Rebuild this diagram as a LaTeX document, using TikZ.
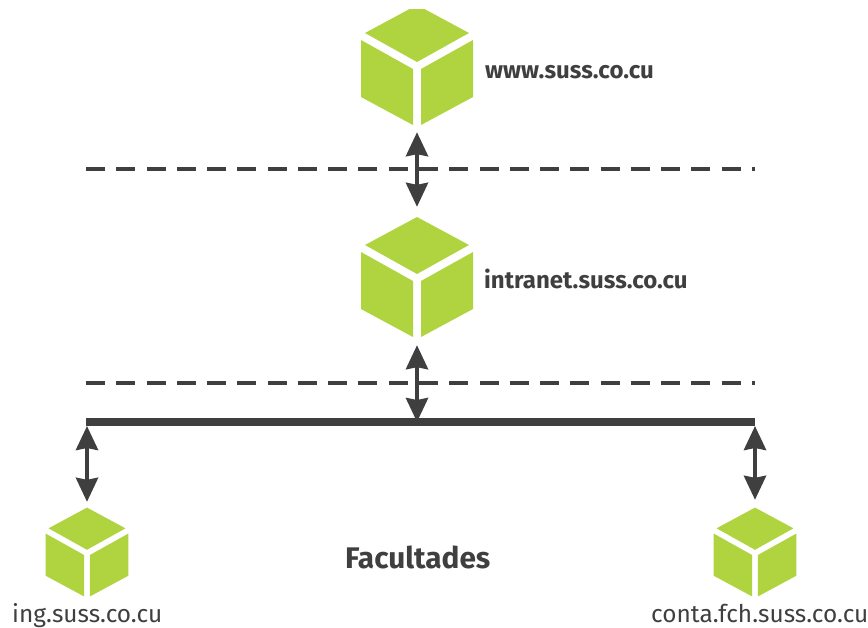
\documentclass[tikz,border=0pt]{standalone}
\usepackage{fontspec}
\setmainfont{Fira Sans}
\usepackage{xcolor}
\usetikzlibrary{arrows.meta}
\definecolor{cubegreen}{HTML}{AFD43F}
\definecolor{inkgrey}{HTML}{3F3F3F}
\tikzset{
  greencube/.pic={
    \fill [cubegreen] (-56,-25) -- (-4,4) -- (-4,60) -- (-56,32) -- cycle;
    \fill [cubegreen] (56,-25) -- (4,4) -- (4,60) -- (56,32) -- cycle;
    \fill [cubegreen] (-52,-32) -- (0,-60) -- (52,-32) -- (0,-3) -- cycle;
  },
  bigbox/.style={minimum width=112pt, minimum height=120pt, inner sep=0pt},
  smallbox/.style={minimum width=83pt, minimum height=88pt, inner sep=0pt},
  boldlabel/.style={anchor=base west, inner sep=0pt, text=inkgrey, font=\bfseries\fontsize{24}{28}\selectfont},
  pluslabel/.style={anchor=base west, inner sep=0pt, text=inkgrey, font=\fontsize{24.4}{28}\selectfont},
  zone/.style={inkgrey, line width=3.4pt, dash pattern=on 19pt off 11.27pt},
  biarrow/.style={{Stealth[length=24pt,width=22pt,inset=2pt]}-{Stealth[length=24pt,width=22pt,inset=2pt]}, inkgrey, line width=4pt},
}
\begin{document}
\begin{tikzpicture}[x=1pt, y=-1pt]
  \useasboundingbox (0,0) rectangle (868,627);
  \node [bigbox] (www) at (417,65) {};
  \node [bigbox] (intranet) at (417,277) {};
  \node [smallbox] (ing) at (87,552) {};
  \node [smallbox] (conta) at (755,552) {};
  \begin{scope}
    \clip (0,9) rectangle (868,627);
    \pic at (www) {greencube};
  \end{scope}
  \pic at (intranet) {greencube};
  \pic [scale=.74] at (ing) {greencube};
  \pic [scale=.74] at (conta) {greencube};
  \node [boldlabel] (wwwlabel) at (485,78) {www.suss.co.cu};
  \node [boldlabel] (intranetlabel) at (484,288) {intranet.suss.co.cu};
  \node [boldlabel, font=\bfseries\fontsize{29.8}{34}\selectfont] (faculty) at (345,568) {Facultades};
  \node [pluslabel] (inglabel) at (12,622) {ing.suss.co.cu};
  \node [pluslabel] (contalabel) at (651,622) {conta.fch.suss.co.cu};
  \coordinate (zoneAl) at (86,169);
  \coordinate (zoneAr) at (755,169);
  \coordinate (zoneBl) at (86,383);
  \coordinate (zoneBr) at (755,383);
  \coordinate (busl) at (86,422);
  \coordinate (busr) at (755,422);
  \coordinate (busm) at (417,422);
  \coordinate (busltip) at (87,426);
  \coordinate (busrtip) at (755,426);
  \draw [zone] (zoneAl) -- (zoneAr);
  \draw [zone] (zoneBl) -- (zoneBr);
  \draw [inkgrey, line width=7.5pt] (busl) -- (busr);
  \draw [biarrow, shorten <=7pt, shorten >=10pt] (www) -- (intranet);
  \draw [biarrow, shorten <=8pt] (intranet) -- (busm);
  \draw [biarrow, shorten >=6pt] (busltip) -- (ing);
  \draw [biarrow, shorten >=8pt] (busrtip) -- (conta);
\end{tikzpicture}
\end{document}
